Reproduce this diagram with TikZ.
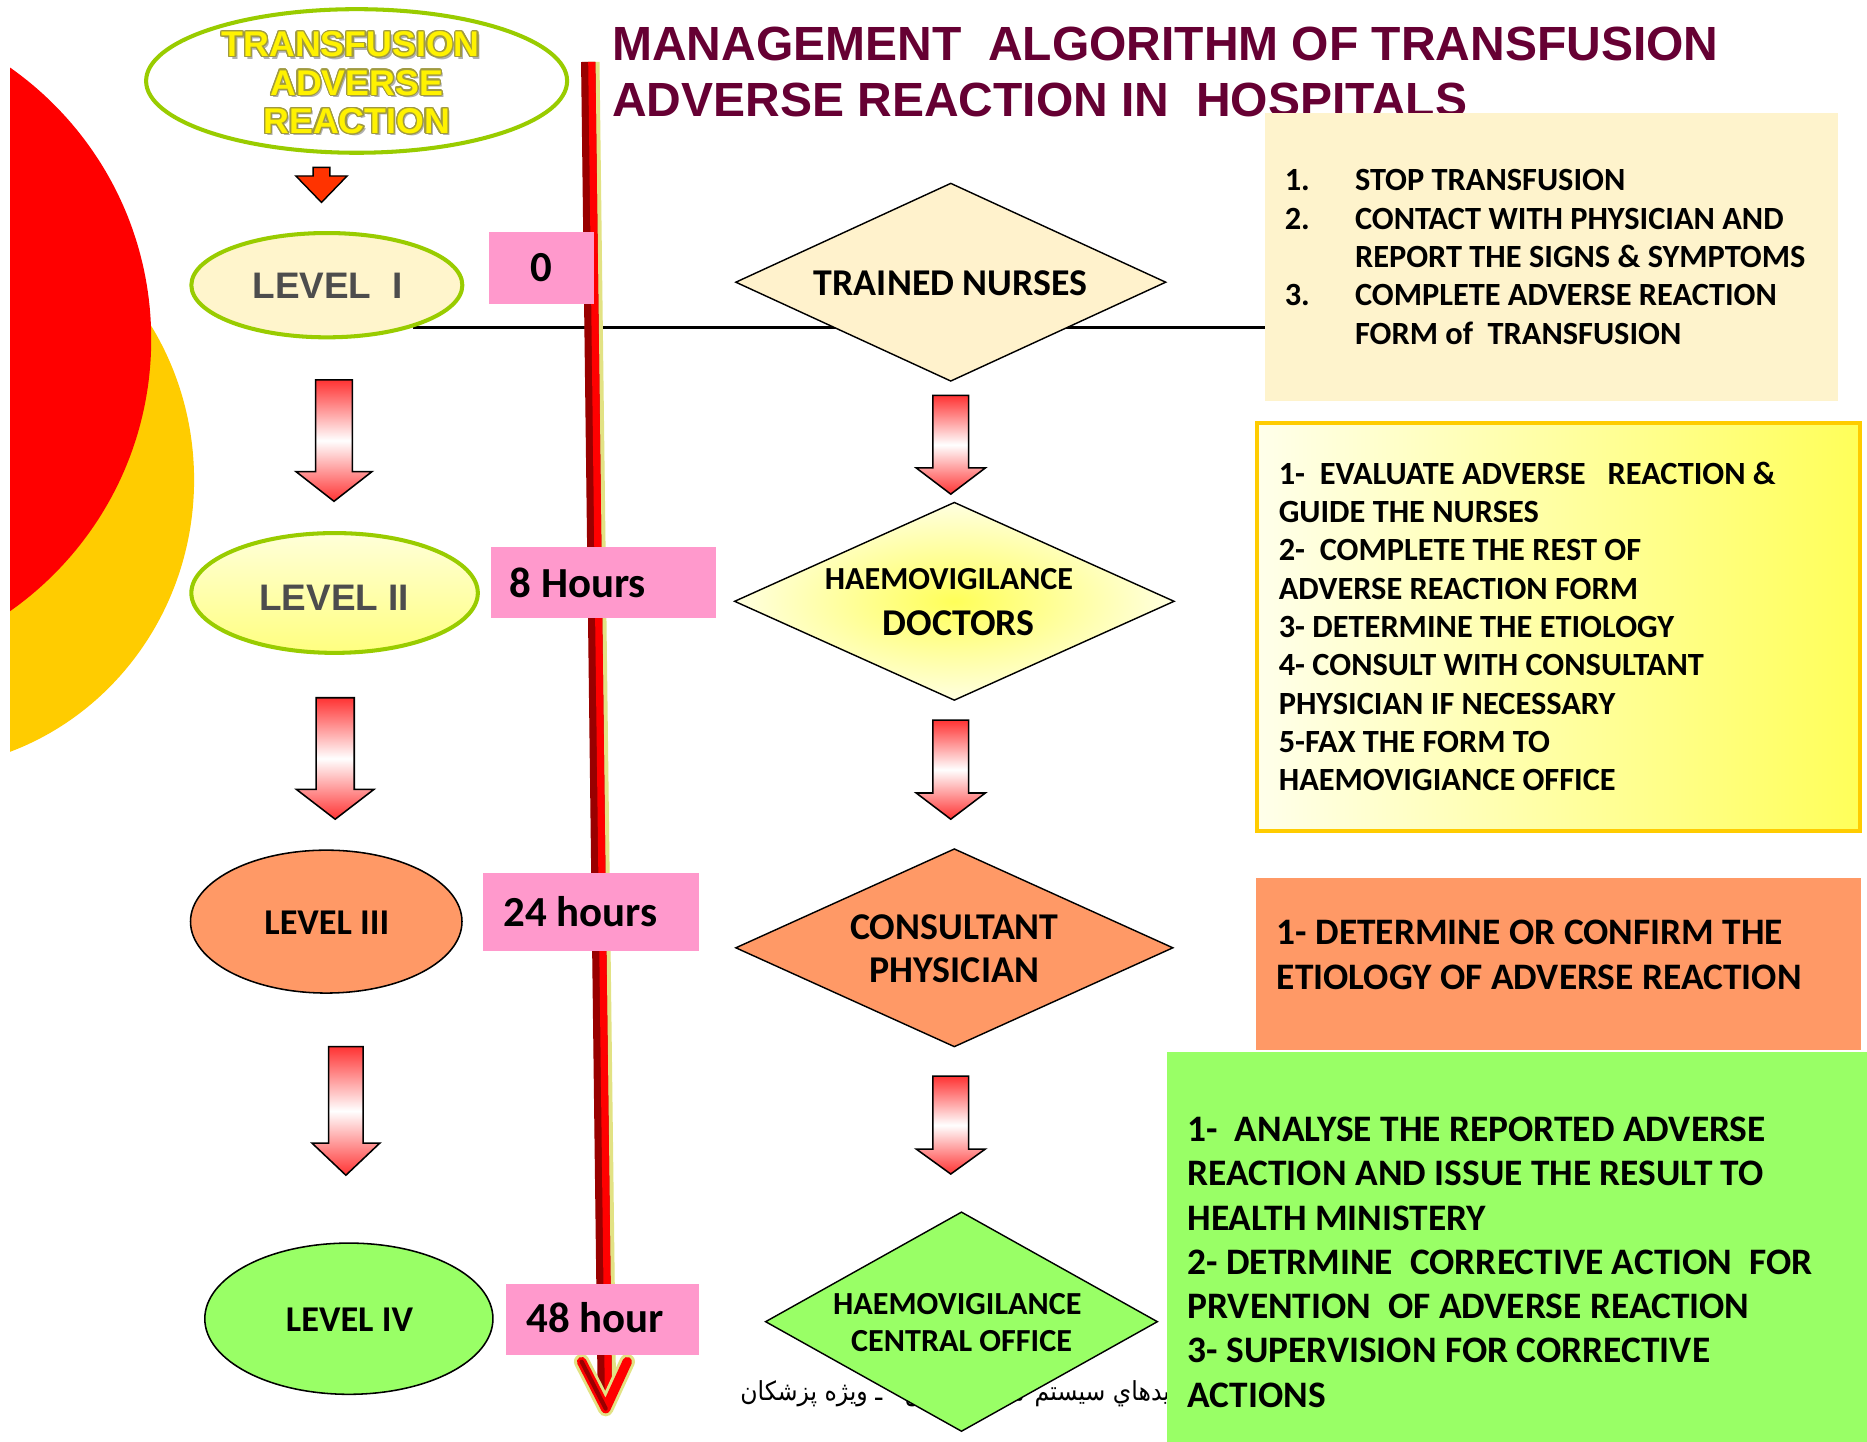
\documentclass[tikz,border=0pt]{standalone}
\usepackage{fontspec}
\setmainfont{Carlito}
\newfontfamily\arialfont{Liberation Sans}
\newfontfamily\arabicfont[Script=Arabic]{DejaVu Sans}
\usepackage{contour}
\contourlength{1.1pt}
\usetikzlibrary{shapes.geometric,calc}
\TeXXeTstate=1
\newcommand{\fsz}[1]{\fontsize{#1}{#1}\selectfont}
\definecolor{titlecol}{HTML}{660033}
\definecolor{pinkc}{HTML}{FF99CC}
\definecolor{levgreen}{HTML}{99CC00}
\definecolor{creamL}{HTML}{FFF5CC}
\definecolor{creamD}{HTML}{FFF2CC}
\definecolor{creamB}{HTML}{FEF3CC}
\definecolor{orangec}{HTML}{FF9966}
\definecolor{greenc}{HTML}{99FF66}
\definecolor{goldc}{HTML}{FFCC00}
\definecolor{arrowred}{HTML}{FF3333}
\definecolor{smallred}{HTML}{FF3300}
\definecolor{levgray}{HTML}{4D4D4D}
\definecolor{shapered}{HTML}{FF0000}
\definecolor{shapeyellow}{HTML}{FFCC00}
\definecolor{tlglow}{HTML}{E2E284}
\definecolor{tldark}{HTML}{990000}
\definecolor{tlred}{HTML}{FF0000}
\definecolor{wordyellow}{HTML}{FFF200}
\definecolor{wordedge}{HTML}{A09A40}
\definecolor{wordshadow}{HTML}{B0B0B0}
\tikzset{
  lvl/.style={ellipse, inner sep=0, outer sep=0},
  dia/.style={diamond, draw=black, line width=1.2, inner sep=0, outer sep=0},
  pinkbox/.style={rectangle, fill=pinkc, inner sep=0, outer sep=0, anchor=north west},
  plainbox/.style={rectangle, inner sep=0, outer sep=0, anchor=north west},
  txt/.style={inner sep=0, outer sep=0, font=\bfseries\fsz{27.2}},
  smalldiatxt/.style={inner sep=0, outer sep=0, font=\bfseries\fsz{27}},
  diatxt/.style={inner sep=0, outer sep=0, font=\bfseries\fsz{31.8}},
  bigtxt/.style={inner sep=0, outer sep=0, font=\bfseries\fsz{31.4}},
  lvltxt/.style={inner sep=0, outer sep=0, font=\bfseries\fsz{30.5}},
  timetxt/.style={inner sep=0, outer sep=0, font=\bfseries\fsz{36}},
  wordtxt/.style={inner sep=0, outer sep=0, font=\arialfont\bfseries\fsz{30}},
  blockarrow/.style={draw=black, line width=1.3, top color=arrowred, bottom color=arrowred, middle color=white},
}
% #2 x, #3 ytop, #4 yhead, #5 ytip, #6 shaft half width, #7 head half width
\newcommand\blkarrow[7][blockarrow]{%
  \path[#1] ({#2-#6},#3) -- ({#2+#6},#3) -- ({#2+#6},#4) -- ({#2+#7},#4) -- (#2,#5) -- ({#2-#7},#4) -- ({#2-#6},#4) -- cycle;}
\begin{document}
\begin{tikzpicture}[x=1pt,y=-1pt]
\useasboundingbox (0,0) rectangle (1568,1211);
\fill[white] (0,0) rectangle (1568,1211);

% decorative shapes on the left
\begin{scope}
  \clip (8.4,0) rectangle (400,1211);
  \fill[shapeyellow] (-72,403) ellipse [x radius=235, y radius=243];
  \fill[shapered] (-152,285) circle [radius=279];
\end{scope}

% title
\node[anchor=base west, inner sep=0, font=\arialfont\bfseries\fsz{40.3}, text=titlecol] (title1) at (514,50.4) {MANAGEMENT\ \ ALGORITHM OF TRANSFUSION};
\node[anchor=base west, inner sep=0, font=\arialfont\bfseries\fsz{40.3}, text=titlecol] (title2) at (514,98) {ADVERSE REACTION IN\ \ HOSPITALS};

% right-hand boxes
\node[plainbox, fill=creamB, minimum width=482, minimum height=242] (box1) at (1062,95) {};
\node[plainbox, draw=goldc, line width=3.4, left color=yellow!8!white, right color=yellow!65!white, minimum width=507, minimum height=342.3] (box2) at (1055.3,355.3) {};
\node[plainbox, fill=orangec, minimum width=508, minimum height=144.1] (box3) at (1055,737.7) {};

% horizontal line
\coordinate (hls) at (347,275);
\draw[line width=2] (hls) -- (hls -| box1.west);

% time line
\coordinate (tltop) at (494,52);
\coordinate (tlend) at (508,1174);
\coordinate (tltip) at (508.7,1183);
\coordinate (tlwl) at (488.5,1143.6);
\coordinate (tlwr) at (526.8,1143.6);
\draw[line width=15, tlglow] ([xshift=2]tltop) -- ([xshift=2]tlend);
\draw[line width=12, tldark] (tltop) -- (tlend);
\draw[line width=6, tlred] ([xshift=3]tltop) -- ([xshift=3]tlend);
\draw[line width=13, tlglow, line cap=round, line join=round] (tlwl) -- (tltip) -- (tlwr);
\draw[line width=8, tlred, line cap=round, line join=round] (tlwl) -- (tltip) -- (tlwr);
\draw[line width=3.5, tldark, line cap=round, line join=round] (tlwl) -- (tltip);

% time boxes
\node[pinkbox, minimum width=88, minimum height=60] (P0) at (411,195) {};
\node[pinkbox, minimum width=189, minimum height=60] (P8) at (412,459) {};
\node[pinkbox, minimum width=181, minimum height=66] (P24) at (406,733) {};
\node[pinkbox, minimum width=162, minimum height=60] (P48) at (425,1078) {};
\node[timetxt, anchor=base] (P0t) at (454.8,236.6) {0};
\node[timetxt, anchor=base west] (P8t) at (428,501.7) {8 Hours};
\node[timetxt, anchor=base west] (P24t) at (423,778) {24 hours};
\node[timetxt, anchor=base west] (P48t) at (442,1118.7) {48 hour};

% top ellipse
\node[lvl, draw=levgreen, line width=3.4, minimum width=353.6, minimum height=120.6] (top) at (299.5,68) {};
\foreach \w/\x/\y [count=\i] in {TRANSFUSION/294.6/47.6, ADVERSE/299.6/79.8, REACTION/299.6/112} {
  \node[wordtxt, anchor=base, text=wordshadow] (ts\i) at ({\x+2},{\y+2}) {\w};
  \node[wordtxt, anchor=base, text=wordyellow] (tw\i) at (\x,\y) {\contour{wordedge}{\w}};
}
\blkarrow[draw=black, line width=1.2, fill=smallred]{270}{140.6}{147.8}{170}{7}{21.5}

% level ellipses
\node[lvl, draw=levgreen, line width=3.4, fill=creamL, minimum width=227.6, minimum height=87.6] (L1) at (274.5,239.5) {};
\node[lvl, draw=levgreen, line width=3.4, top color=yellow!15!white, bottom color=yellow!50!white, minimum width=240.6, minimum height=100.6] (L2) at (281,498) {};
\node[lvl, draw=black, line width=1.3, fill=orangec, minimum width=228, minimum height=120] (L3) at (274,774) {};
\node[lvl, draw=black, line width=1.3, fill=greenc, minimum width=242, minimum height=127] (L4) at (293,1107.5) {};
\node[inner sep=0, anchor=base, font=\arialfont\bfseries\fsz{31}, text=levgray] (L1t) at (275,250.5) {LEVEL\ \ I};
\node[inner sep=0, anchor=base, font=\arialfont\bfseries\fsz{31}, text=levgray] (L2t) at (280.7,512.9) {LEVEL II};
\node[lvltxt, anchor=base] (L3t) at (274.5,784.6) {LEVEL III};
\node[lvltxt, anchor=base] (L4t) at (293.5,1117.9) {LEVEL IV};

% left column arrows
\blkarrow{280.5}{319}{396}{421}{15.5}{32}
\blkarrow{281.5}{586}{663}{688}{16}{32.5}
\blkarrow{290.5}{879}{960}{987}{14.5}{28.5}

% middle column
\node[dia, fill=creamD, minimum width=361, minimum height=166] (D1) at (798.5,237) {};
\node[dia, inner color=yellow!65!white, outer color=yellow!12!white, minimum width=369, minimum height=166] (D2) at (801.5,505) {};
\node[dia, fill=orangec, minimum width=367, minimum height=166] (D3) at (801.5,796) {};
\node[diatxt, anchor=base] (D1t) at (798.4,247.8) {TRAINED NURSES};
\node[smalldiatxt, anchor=base] (D2t1) at (797,495.5) {HAEMOVIGILANCE};
\node[diatxt, anchor=base] (D2t2) at (805,533.3) {DOCTORS};
\node[diatxt, anchor=base] (D3t1) at (801.5,788.7) {CONSULTANT};
\node[diatxt, anchor=base] (D3t2) at (801.5,825.4) {PHYSICIAN};
\blkarrow{798.5}{332}{393}{415}{15}{29}
\blkarrow{798.5}{604.7}{666}{688}{15}{29}
\blkarrow{798.5}{903.8}{965}{986}{15}{29}

% footer text (partly covered)
\node[inner sep=0, anchor=base west] (fa) at (621.5,1175.8) {\scalebox{0.9}[1]{\arabicfont\fsz{22}\beginR اسلايدهاي سيستم\hspace{3pt} هموويژلانس\hspace{14pt} ـ ويژه پزشكان\endR}};

\node[dia, fill=greenc, minimum width=329, minimum height=184] (D4) at (807.5,1110) {};
\node[smalldiatxt, anchor=base] (D4t1) at (804,1103.6) {HAEMOVIGILANCE};
\node[smalldiatxt, anchor=base] (D4t2) at (807.6,1135.3) {CENTRAL OFFICE};

\node[plainbox, fill=greenc, minimum width=588, minimum height=327.5] (box4) at (980,883.5) {};

% box texts
\node[txt, anchor=base west] (b1n1) at (1079,160) {1.};
\node[txt, anchor=base west] (b1l1) at (1138,160) {STOP TRANSFUSION};
\node[txt, anchor=base west] (b1n2) at (1079,192.6) {2.};
\node[txt, anchor=base west] (b1l2) at (1138,192.6) {CONTACT WITH PHYSICIAN AND};
\node[txt, anchor=base west] (b1l3) at (1138,224.8) {REPORT THE SIGNS \& SYMPTOMS};
\node[txt, anchor=base west] (b1n3) at (1079,256.7) {3.};
\node[txt, anchor=base west] (b1l4) at (1138,256.7) {COMPLETE ADVERSE REACTION};
\node[txt, anchor=base west] (b1l5) at (1138,289) {FORM of\ \ TRANSFUSION};

\foreach \t [count=\i from 0] in {{1-\ \ EVALUATE ADVERSE\ \ \ REACTION \&},{GUIDE THE NURSES},{2-\ \ COMPLETE THE REST OF},{ADVERSE REACTION FORM},{3- DETERMINE THE ETIOLOGY},{4- CONSULT WITH CONSULTANT},{PHYSICIAN IF NECESSARY},{5-FAX THE FORM TO},{HAEMOVIGIANCE OFFICE}}
  \node[txt, anchor=base west] (b2l\i) at (1074,{406.5+32.2*\i}) {\t};

\node[bigtxt, anchor=base west] (b3l1) at (1072.3,793.2) {1- DETERMINE OR CONFIRM THE};
\node[bigtxt, anchor=base west] (b3l2) at (1072.3,830.6) {ETIOLOGY OF ADVERSE REACTION};

\foreach \t [count=\i from 0] in {{1-\ \ ANALYSE THE REPORTED ADVERSE},{REACTION AND ISSUE THE RESULT TO},{HEALTH MINISTERY},{2- DETRMINE\ \ CORRECTIVE ACTION\ \ FOR},{PRVENTION\ \ OF ADVERSE REACTION},{3- SUPERVISION FOR CORRECTIVE},{ACTIONS}}
  \node[bigtxt, anchor=base west] (b4l\i) at (997.3,{958.6+37.2*\i}) {\t};
\end{tikzpicture}
\end{document}
